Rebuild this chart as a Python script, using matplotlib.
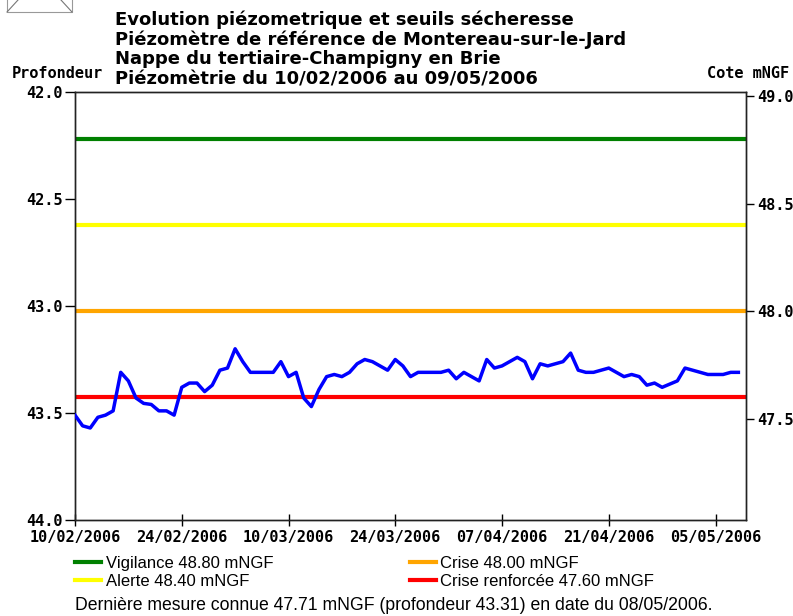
import matplotlib
matplotlib.use("Agg")
import matplotlib.pyplot as plt
import matplotlib.dates as mdates
from matplotlib.lines import Line2D
from matplotlib.patches import Rectangle
import pandas as pd

# measured depth (m) - day offset from 10/02/2006
day_offsets = [0, 1, 2, 3, 4, 5, 6, 7, 8, 9, 10, 11, 12, 13, 14, 15, 16, 17, 18, 19,
               20, 21, 22, 23, 26, 27, 28, 29, 30, 31, 32, 33, 34, 35, 36, 37, 38, 39,
               40, 41, 42, 43, 44, 45, 48, 49, 50, 51, 52, 53, 54, 55, 56, 58, 59, 60,
               61, 62, 63, 64, 65, 66, 67, 68, 70, 71, 72, 73, 74, 75, 76, 77, 79, 80,
               81, 82, 83, 85, 86, 87]
depth = [43.51, 43.56, 43.57, 43.52, 43.51, 43.49, 43.31, 43.35, 43.43, 43.455, 43.46,
         43.49, 43.49, 43.51, 43.38, 43.36, 43.36, 43.40, 43.37, 43.30, 43.29, 43.20,
         43.26, 43.31, 43.31, 43.26, 43.33, 43.31, 43.43, 43.47, 43.39, 43.33, 43.32,
         43.33, 43.31, 43.27, 43.25, 43.26, 43.28, 43.30, 43.25, 43.28, 43.33, 43.31,
         43.31, 43.30, 43.34, 43.31, 43.33, 43.35, 43.25, 43.29, 43.28, 43.24, 43.26,
         43.34, 43.27, 43.28, 43.27, 43.26, 43.22, 43.30, 43.31, 43.31, 43.29, 43.31,
         43.33, 43.32, 43.33, 43.37, 43.36, 43.38, 43.35, 43.29, 43.30, 43.31, 43.32,
         43.32, 43.31, 43.31]

start = pd.Timestamp("2006-02-10")
end = pd.Timestamp("2006-05-09")
dates = [start + pd.Timedelta(days=d) for d in day_offsets]

seuil_names = ["Vigilance", "Alerte", "Crise", "Crise renforcée"]
seuil_values = [48.80, 48.40, 48.00, 47.60]
seuil_colors = ["#008000", "#FFFF00", "#FFA500", "#FF0000"]

left_ticks = [42.0, 42.5, 43.0, 43.5, 44.0]
right_ticks = [47.5, 48.0, 48.5, 49.0]

titles = ["Evolution piézometrique et seuils sécheresse",
          "Piézomètre de référence de Montereau-sur-le-Jard",
          "Nappe du tertiaire-Champigny en Brie",
          "Piézomètrie du 10/02/2006 au 09/05/2006"]

mono = {"family": "DejaVu Sans Mono", "weight": "bold", "size": 11}

fig = plt.figure(figsize=(7.93, 6.16), dpi=100)
ax = fig.add_axes([75 / 793, 1 - 520 / 616, (746 - 75) / 793, (520 - 92) / 616])
ax2 = ax.twinx()

ax.plot(dates, depth, color="#0000FF", linewidth=2.5, zorder=5)
ax.set_ylim(44.0, 42.0)
ax.set_yticks(left_ticks)
ax.set_yticklabels(["%.1f" % v for v in left_ticks], fontdict=mono)
ax.set_xlim(start, end)
xt = pd.date_range(start, end, freq="14D")
ax.set_xticks(xt)
ax.set_xticklabels([d.strftime("%d/%m/%Y") for d in xt], fontdict=mono)
ax.tick_params(axis="y", direction="out", length=7, width=1, pad=2)
ax.tick_params(axis="x", direction="inout", length=8, width=1, pad=3)

handles = []
for n, v, c in zip(seuil_names, seuil_values, seuil_colors):
    h, = ax2.plot([start, end], [v, v], color=c, linewidth=3,
                  label="%s %.2f mNGF" % (n, v))
    handles.append(h)
ax2.set_ylim(47.03, 49.02)
ax2.set_yticks(right_ticks)
ax2.set_yticklabels(["%.1f" % v for v in right_ticks], fontdict=mono)
ax2.tick_params(axis="y", direction="out", length=6, width=1, pad=2)
ax.set_zorder(ax2.get_zorder() + 1)
ax.patch.set_visible(False)

for a in (ax, ax2):
    for s in a.spines.values():
        s.set_color("#222222")
        s.set_linewidth(1)

for i, t in enumerate(titles):
    fig.text(115 / 793, 1 - (20 + 19.7 * i) / 616, t, ha="left", va="center",
             fontsize=13.0, fontweight="bold", family="DejaVu Sans")

fig.text(57 / 793, 1 - 74 / 616, "Profondeur", ha="center", va="center", **mono)
fig.text(748 / 793, 1 - 74 / 616, "Cote mNGF", ha="center", va="center", **mono)

leg = fig.legend(handles=handles, ncol=2, loc="upper left",
                 bbox_to_anchor=(68 / 793, 1 - 549 / 616), frameon=False,
                 prop={"family": "Liberation Sans", "size": 12},
                 handlelength=1.6, handletextpad=0.25, columnspacing=8.2,
                 labelspacing=0.18, borderaxespad=0)

fig.text(75 / 793, 1 - 605 / 616,
         "Dernière mesure connue 47.71 mNGF (profondeur 43.31) en date du 08/05/2006.",
         ha="left", va="center", fontsize=12.7, family="Liberation Sans")

# broken image placeholder in the corner
fig.add_artist(Rectangle((7 / 793, 1 - 12 / 616), 65 / 793, 14 / 616,
                         transform=fig.transFigure, fill=False, ec="#999999", lw=0.8))
fig.add_artist(Line2D([7 / 793, 18 / 793], [1 - 12 / 616, 1.0],
                      transform=fig.transFigure, color="#777777", lw=0.8))
fig.add_artist(Line2D([72 / 793, 61 / 793], [1 - 12 / 616, 1.0],
                      transform=fig.transFigure, color="#777777", lw=0.8))

fig.savefig("out.png", dpi=100)
